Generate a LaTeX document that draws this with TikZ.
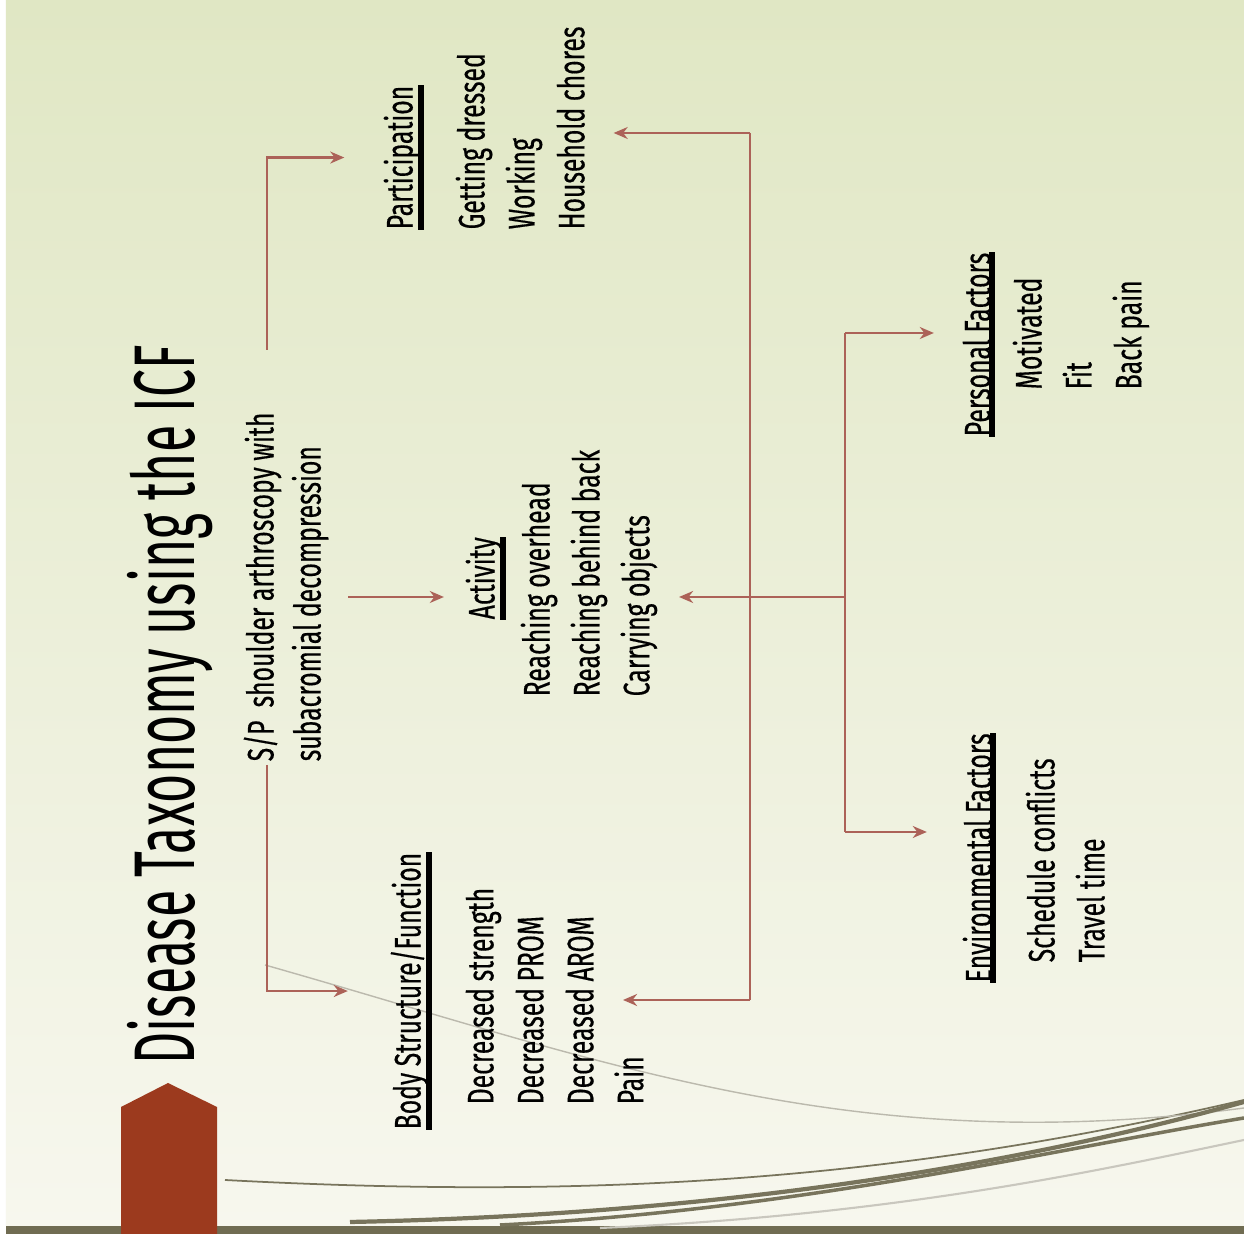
\documentclass[tikz,border=0pt]{standalone}
\usepackage{fontspec}
\setmainfont[FakeStretch=0.67, FakeBold=0.4]{Fira Sans}
\newfontfamily\titlefont[FakeStretch=0.58]{Fira Sans}
\usetikzlibrary{arrows.meta,positioning}
\definecolor{linkred}{RGB}{172,98,88}
\definecolor{tabbrown}{RGB}{156,58,30}
\definecolor{barolive}{RGB}{112,108,82}
\definecolor{swoosh}{RGB}{120,116,92}
\definecolor{bgtop}{RGB}{224,231,196}
\definecolor{bgbot}{RGB}{247,247,238}

\begin{document}
\begin{tikzpicture}[x=0.01cm, y=-0.01cm,
    txt/.style={rotate=90, anchor=north west, inner sep=0pt, align=left,
        font=\fontsize{10.5}{14.2}\selectfont},
    hdr/.style={txt},
    ulbar/.style={black, line width=1.7pt},
    link/.style={linkred, line width=0.8pt},
    arrow/.style={->, >={Stealth[length=4pt,width=3.4pt]}, linkred, line width=0.8pt}
]
    \useasboundingbox (0,0) rectangle (1244,1234);

    % Background
    \fill[white] (0,0) rectangle (1244,1234);
    \shade[top color=bgtop, bottom color=bgbot] (6,1) rectangle (1244,1226);
    \fill[barolive] (6,1226) rectangle (1244,1234);
    \draw[swoosh, line width=0.5pt] (225,1180) .. controls (600,1200) and (900,1180) .. (1244,1100);
    \draw[swoosh!50, line width=0.4pt] (265,965) .. controls (600,1060) and (850,1160) .. (1244,1108);
    \draw[swoosh, line width=1.2pt] (350,1222) .. controls (700,1215) and (1000,1170) .. (1244,1102);
    \draw[swoosh, line width=1pt] (500,1225) .. controls (800,1210) and (1050,1150) .. (1244,1118);
    \draw[swoosh!40, line width=0.6pt] (600,1228) .. controls (900,1215) and (1100,1170) .. (1244,1140);
    \fill[tabbrown] (121,1234) -- (121,1107) -- (168,1083) -- (217,1107) -- (217,1234) -- cycle;

    % Title
    \node[txt, font=\titlefont\fontsize{24.5}{28}\selectfont] (title) at (127,1065) {Disease Taxonomy using the ICF};

    % Condition
    \node[txt, font=\fontsize{10.5}{13.4}\selectfont] (sp) at (243,762) {S/P\ \ shoulder arthroscopy with\\subacromial decompression};

    % Participation
    \node[hdr] (parthead) at (383,230) {Participation};
    \node[txt] (partlist) at (455,230) {Getting dressed\\Working\\Household chores};
    \draw[ulbar] (parthead.south west) -- (parthead.south east);

    % Activity
    \node[hdr] (acthead) at (465,620) {Activity};
    \node[txt] (actlist) at (520,697) {Reaching overhead\\Reaching behind back\\Carrying objects};
    \draw[ulbar] (acthead.south west) -- (acthead.south east);

    % Body Structure/Function
    \node[hdr] (bodyhead) at (390,1130) {Body Structure/Function};
    \node[txt] (bodylist) at (465,1105) {Decreased strength\\Decreased PROM\\Decreased AROM\\Pain};
    \draw[ulbar] (bodyhead.south west) -- (bodyhead.south east);

    % Personal Factors
    \node[hdr] (pershead) at (962,437) {Personal Factors};
    \node[txt] (perslist) at (1012,390) {Motivated\\Fit\\Back pain};
    \draw[ulbar] (pershead.south west) -- (pershead.south east);

    % Environmental Factors
    \node[hdr] (envhead) at (962,983) {Environmental Factors};
    \node[txt] (envlist) at (1025,963) {Schedule conflicts\\Travel time};
    \draw[ulbar] (envhead.south west) -- (envhead.south east);

    % Connectors from the condition
    \coordinate (spTop) at (267,350);
    \coordinate (spBot) at (267,765);
    \coordinate (spOut) at (348,597);
    \draw[arrow, shorten >=11pt] (spTop) |- (parthead);
    \draw[arrow, shorten >=12pt] (spBot) |- (bodyhead);
    \draw[arrow, shorten >=6pt] (spOut) -- (spOut -| acthead.north);

    % Connectors from the factors
    \coordinate (fTop) at (845,333);
    \coordinate (fMid) at (845,597);
    \coordinate (fBot) at (845,832);
    \draw[link] (fTop) -- (fBot);
    \draw[arrow, shorten >=8pt] (fTop) -- (fTop -| pershead.north);
    \draw[arrow, shorten >=10pt] (fBot) -- (fBot -| envhead.north);
    \draw[arrow, shorten >=6pt] (fMid) -- (fMid -| actlist.south);

    \coordinate (bTop) at (750,133);
    \coordinate (bBot) at (750,1000);
    \coordinate (bodyIn) at (623,1000);
    \draw[link] (bTop) -- (bBot);
    \draw[arrow, shorten >=8pt] (bTop) -- (bTop -| partlist.south);
    \draw[arrow] (bBot) -- (bodyIn);
\end{tikzpicture}
\end{document}
